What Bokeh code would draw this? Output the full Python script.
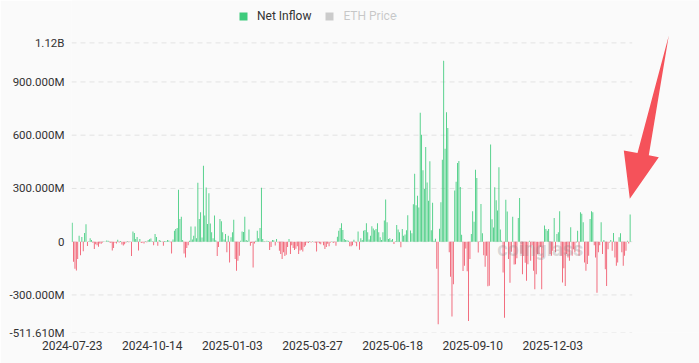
from bokeh.plotting import figure
from bokeh.models import (Range1d, FixedTicker, Legend, LegendItem, PolyAnnotation,
                          ColumnDataSource, Label)
from bokeh.embed import file_html
from bokeh.resources import INLINE

# Daily net inflow (million USD), one value per trading day from 2024-07-23
flows_2024 = [
    107, -113, -152, -163, -98, 34, -77, 27, -54, 49,
    98, -24, 3, 19, 10, -6, -41, -15, -20, -28,
    -10, -12, -5, 3, -2, 7, 5, -3, -8, -50,
    -36, -6, -10, 11, -5, 4, -16, -22, -15, -5,
    2, -3, 1, -80, 58, 49, 15, 27, -50, 15,
    -8, -5, -10, 2, -3, 10, 14, 18, 2, -20,
    43, 26, -23, 10, 6, -2, -23, 4, 2, 10,
    7, -3, -66, 12, 62, 72, 77, 292, 128, 141,
    10, -66, -89, -35, -20, 5, 85, 12, 34, 85,
    20, 332, 128, 166, 24, 428, 147, 305, 100, 273,
    102, 53, 20, 147, 8, -81, -30, 128, 115, 53,
]
flows_2025_h1 = [
    12, 43, -60, 34, -117, 25, 53, 123, -98, -164,
    -107, -79, 5, 57, 55, 141, 10, 6, 68, -23,
    -8, -145, -10, 5, 62, 20, 77, 304, 15, 3,
    -2, 6, 4, -47, -30, 10, 8, -22, 15, -5,
    -51, -70, -98, -60, -81, -74, -30, 15, -70, -20,
    -35, -47, -40, -25, -70, -50, -45, -55, -30, -22,
    -5, -8, 3, -4, 2, -3, -6, -55, -4, -10,
    -15, -3, -20, -41, -30, -12, -25, -5, 2, -8,
    -3, -23, 28, 62, 77, 104, 66, 15, 10, 8,
    5, -26, -25, -20, 11, -5, -26, 57, -45, 19,
    10, 62, 66, 104, 53, 12, 34, 87, 75, 64,
    72, 104, 53, 25, 10, 53, 119, 238, 109, 15,
    19, 8, 15, -13, 3, 94, 68, 53, -32, 72,
]
flows_2025_h2 = [
    34, 40, 65, 149, 0, 63, 47, 211, 383, 205,
    259, 193, 727, 602, 403, 297, 534, 333, 231, 453,
    65, 219, 6, 17, -152, -465, 73, 222, 461, 1019,
    524, 729, 640, -59, -197, -422, -240, 288, 338, 444,
    455, 308, 39, -165, -135, -38, -167, -447, -97, 44,
    171, 113, 405, 359, -61, -2, 213, 48, -76, -141,
    -79, -251, -248, 547, 127, 80, 307, 233, 176, 420,
    69, 5, -174, -428, 236, 170, -98, -232, -57, 141,
    -128, -127, -93, 134, 246, -68, -184, -81, -118, -220,
    -127, 6, -108, -20, -164, -268, -183, -70, -70, -30,
    -268, -89, 91, 72, 62, 72, -70, -79, -51, 134,
    -60, 43, 53, 172, -79, -230, -150, -250, -70, -89,
]
flows_2026 = [
    -108, 81, -79, -42, -60, -5, 62, -79, 166, 157,
    109, -117, -164, -126, -79, 128, 172, 166, -20, -89,
    -287, -60, -20, 109, -70, 10, -155, -249, -42, -5,
    10, -51, 49, -89, -136, -117, 25, 47, -60, -136,
    -79, -51, 5, -10, 153, 0,
]
net_inflow = flows_2024 + flows_2025_h1 + flows_2025_h2 + flows_2026

x_tick_index = [0, 58, 116, 174, 232, 290, 348]
x_tick_labels = ["2024-07-23", "2024-10-14", "2025-01-03", "2025-03-27",
                 "2025-06-18", "2025-09-10", "2025-12-03"]
y_ticks = [-511.61, -300, 0, 300, 600, 900, 1120]
y_tick_labels = ["-511.610M", "-300.000M", "0", "300.000M", "600.000M", "900.000M", "1.12B"]

GREEN = "#3ecb7c"
RED = "#f0566a"
BG = "#fafafa"
FONT = "Roboto"

# layout geometry (pixels)
W, H = 699, 363
LEFT, BOTTOM = 71, 31
PX_PER_BAR = 560.7 / len(net_inflow)
PX_PER_M = 289.6 / (y_ticks[-1] - y_ticks[0])
x_start = -0.5
x_end = x_start + (W - LEFT) / PX_PER_BAR
y_start = y_ticks[0]
y_end = y_start + (H - BOTTOM) / PX_PER_M

pos = ColumnDataSource(dict(x=[i for i, v in enumerate(net_inflow) if v > 0],
                            top=[v for v in net_inflow if v > 0]))
neg = ColumnDataSource(dict(x=[i for i, v in enumerate(net_inflow) if v < 0],
                            top=[v for v in net_inflow if v < 0]))

p = figure(width=W, height=H, output_backend="svg", toolbar_location=None,
           x_range=Range1d(x_start, x_end), y_range=Range1d(y_start, y_end),
           min_border_left=LEFT, min_border_right=0, min_border_top=0, min_border_bottom=BOTTOM,
           background_fill_color=BG, border_fill_color=BG, outline_line_color=None)

# dashed horizontal grid lines at each y tick, spanning the bar area
n = len(net_inflow)
p.segment(x0=[-0.5] * len(y_ticks), x1=[n - 0.5] * len(y_ticks), y0=y_ticks, y1=y_ticks,
          line_color="#e3e3e3", line_dash="5 4", line_width=1)

r_pos = p.vbar(x="x", top="top", bottom=0, width=0.62, source=pos,
               fill_color=GREEN, line_color=None)
r_neg = p.vbar(x="x", top="top", bottom=0, width=0.62, source=neg,
               fill_color=RED, line_color=None)
# ETH Price series is switched off in the legend (hidden renderer)
r_eth = p.vbar(x=[0], top=[0], width=0.6, fill_color="#424242", line_color=None, visible=False)

# axes
p.xaxis.ticker = FixedTicker(ticks=x_tick_index)
p.xaxis.major_label_overrides = {t: l for t, l in zip(x_tick_index, x_tick_labels)}
p.yaxis.ticker = FixedTicker(ticks=y_ticks)
p.yaxis.major_label_overrides = {t: l for t, l in zip(y_ticks, y_tick_labels)}
for ax in (p.xaxis[0], p.yaxis[0]):
    ax.axis_line_color = None
    ax.major_tick_line_color = None
    ax.minor_tick_line_color = None
    ax.major_tick_in = 0
    ax.major_tick_out = 0
    ax.major_label_text_font = FONT
    ax.major_label_text_color = "#333333"
p.xaxis.major_label_text_font_size = "12px"
p.yaxis.major_label_text_font_size = "11.5px"
p.xaxis.major_label_standoff = 8
p.yaxis.major_label_standoff = 7

p.xgrid.grid_line_color = None
p.ygrid.grid_line_color = None

legend = Legend(items=[LegendItem(label="Net Inflow", renderers=[r_pos]),
                       LegendItem(label="ETH Price", renderers=[r_eth])],
                orientation="horizontal", location=(167, 309.5), click_policy="hide",
                glyph_width=10, glyph_height=10, label_height=14, label_standoff=9,
                spacing=13, padding=0, margin=0, background_fill_alpha=0,
                border_line_color=None, label_text_font=FONT, label_text_font_size="12px",
                label_text_color="#333333", inactive_fill_color=BG, inactive_fill_alpha=0.75)
p.add_layout(legend)

wm = Label(x=307.7, y=-39, text="coinglass", text_baseline="middle", text_font=FONT,
           text_font_size="20px", text_font_style="bold", text_color="#888888", text_alpha=0.3)
p.add_layout(wm)

arrow = PolyAnnotation(xs=[668.3, 648.3, 658.3, 629.3, 623.3, 637.0],
                       ys=[35.0, 154.8, 156.7, 198.3, 150.0, 152.6],
                       xs_units="canvas", ys_units="canvas",
                       fill_color="#f5525a", fill_alpha=1.0, line_color=None)
p.add_layout(arrow)

html = file_html(p, INLINE)
html = html.replace("<body>", '<body style="background:%s">' % BG, 1)
open("out.html", "w").write(html)
